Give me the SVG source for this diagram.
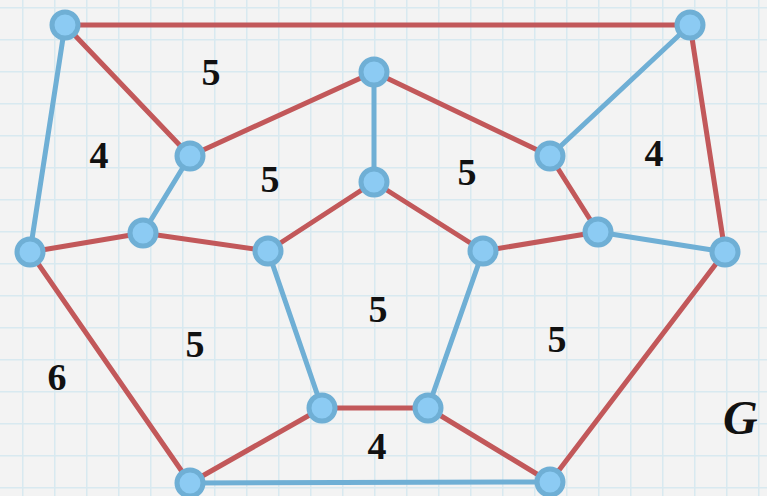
<svg xmlns="http://www.w3.org/2000/svg" width="767" height="496" viewBox="0 0 767 496">
<defs>
<pattern id="grid" x="22" y="7" width="32" height="32" patternUnits="userSpaceOnUse">
<path d="M0 0V32M0 0H32" fill="none" stroke="#d8e9f0" stroke-width="3"/>
</pattern>
<style>
.r{stroke:#c2585a;stroke-width:5;fill:none;stroke-linecap:round}
.b{stroke:#6fafd5;stroke-width:5;fill:none;stroke-linecap:round}
.n circle{fill:#8ccbf3;stroke:#6fafd5;stroke-width:5}
.t{font-family:"Liberation Serif",serif;font-weight:bold;font-size:38px;fill:#111;text-anchor:middle}
</style>
</defs>
<rect width="767" height="496" fill="#f3f3f3"/>
<rect width="767" height="496" fill="url(#grid)"/>
<g id="connectors">
<line class="r" x1="65" y1="25" x2="690" y2="25"/>
<line class="r" x1="65" y1="25" x2="190" y2="156"/>
<line class="r" x1="190" y1="156" x2="374" y2="72"/>
<line class="r" x1="374" y1="72" x2="550" y2="156"/>
<line class="r" x1="550" y1="156" x2="598" y2="232"/>
<line class="r" x1="690" y1="25" x2="725" y2="252"/>
<line class="r" x1="30" y1="252" x2="143" y2="233"/>
<line class="r" x1="143" y1="233" x2="268" y2="251"/>
<line class="r" x1="598" y1="232" x2="483" y2="251"/>
<line class="r" x1="268" y1="251" x2="374" y2="182"/>
<line class="r" x1="374" y1="182" x2="483" y2="251"/>
<line class="r" x1="30" y1="252" x2="190" y2="483"/>
<line class="r" x1="725" y1="252" x2="550" y2="482"/>
<line class="r" x1="322" y1="408" x2="428" y2="408"/>
<line class="r" x1="322" y1="408" x2="190" y2="483"/>
<line class="r" x1="428" y1="408" x2="550" y2="482"/>
<line class="b" x1="65" y1="25" x2="30" y2="252"/>
<line class="b" x1="190" y1="156" x2="143" y2="233"/>
<line class="b" x1="374" y1="72" x2="374" y2="182"/>
<line class="b" x1="550" y1="156" x2="690" y2="25"/>
<line class="b" x1="598" y1="232" x2="725" y2="252"/>
<line class="b" x1="268" y1="251" x2="322" y2="408"/>
<line class="b" x1="483" y1="251" x2="428" y2="408"/>
<line class="b" x1="190" y1="483" x2="550" y2="482"/>
</g>
<g id="n1" class="n"><circle cx="65" cy="25" r="13"/></g>
<g id="n2" class="n"><circle cx="690" cy="25" r="13"/></g>
<g id="n3" class="n"><circle cx="30" cy="252" r="13"/></g>
<g id="n4" class="n"><circle cx="725" cy="252" r="13"/></g>
<g id="n5" class="n"><circle cx="190" cy="483" r="13"/></g>
<g id="n6" class="n"><circle cx="550" cy="482" r="13"/></g>
<g id="n7" class="n"><circle cx="190" cy="156" r="13"/></g>
<g id="n8" class="n"><circle cx="374" cy="72" r="13"/></g>
<g id="n9" class="n"><circle cx="550" cy="156" r="13"/></g>
<g id="n10" class="n"><circle cx="143" cy="233" r="13"/></g>
<g id="n11" class="n"><circle cx="598" cy="232" r="13"/></g>
<g id="n12" class="n"><circle cx="374" cy="182" r="13"/></g>
<g id="n13" class="n"><circle cx="268" cy="251" r="13"/></g>
<g id="n14" class="n"><circle cx="483" cy="251" r="13"/></g>
<g id="n15" class="n"><circle cx="322" cy="408" r="13"/></g>
<g id="n16" class="n"><circle cx="428" cy="408" r="13"/></g>
<g id="labels">
<text class="t" x="211" y="85">5</text>
<text class="t" x="99" y="168">4</text>
<text class="t" x="270" y="192">5</text>
<text class="t" x="467" y="185">5</text>
<text class="t" x="654" y="166">4</text>
<text class="t" x="378" y="322">5</text>
<text class="t" x="195" y="357">5</text>
<text class="t" x="557" y="352">5</text>
<text class="t" x="57" y="390">6</text>
<text class="t" x="377" y="459">4</text>
<text x="723" y="434" style="font-family:'Liberation Serif',serif;font-weight:bold;font-style:italic;font-size:48px;fill:#111">G</text>
</g>
</svg>
